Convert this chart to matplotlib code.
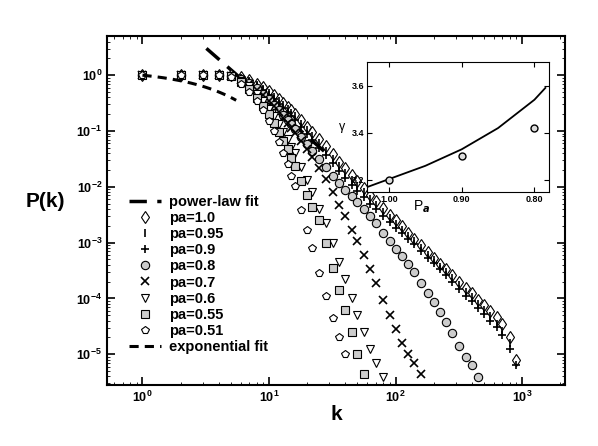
import numpy as np
import matplotlib.pyplot as plt

plt.rcParams['font.family'] = ['Liberation Sans', 'DejaVu Sans']
plt.rcParams['font.weight'] = 'bold'

k = [1, 2, 3, 4, 5, 6, 7, 8, 9, 10, 11, 12, 13, 14, 15, 16, 18, 20, 22, 25, 28, 32, 36, 40,
     45, 50, 56, 63, 70, 80, 90, 100, 112, 125, 140, 160, 180, 200, 225, 250, 280, 320, 360,
     400, 450, 500, 560, 630, 700, 800, 900]

# log10 P(k) per series
logp = {
    'pa=1.0': [0, 0, 0, 0, 0, -0.04, -0.09, -0.15, -0.22, -0.29, -0.36, -0.43, -0.5, -0.57,
               -0.63, -0.69, -0.81, -0.92, -1.02, -1.15, -1.27, -1.42, -1.55, -1.67, -1.79, -1.9,
               -2.02, -2.14, -2.25, -2.38, -2.5, -2.6, -2.71, -2.82, -2.93, -3.05, -3.17, -3.27,
               -3.38, -3.48, -3.58, -3.7, -3.81, -3.91, -4.02, -4.12, -4.22, -4.33, -4.45, -4.7,
               -5.1],
    'pa=0.95': [0, 0, 0, 0, -0.01, -0.05, -0.1, -0.17, -0.24, -0.32, -0.39, -0.47, -0.54, -0.61,
                -0.68, -0.74, -0.87, -0.98, -1.09, -1.22, -1.35, -1.5, -1.63, -1.75, -1.87, -1.98,
                -2.1, -2.22, -2.32, -2.45, -2.56, -2.66, -2.77, -2.88, -2.98, -3.1, -3.22, -3.32,
                -3.43, -3.53, -3.64, -3.76, -3.88, -3.98, -4.1, -4.2, -4.32, -4.45, -4.58, -4.8],
    'pa=0.9': [0, 0, 0, 0, -0.02, -0.06, -0.12, -0.19, -0.27, -0.35, -0.43, -0.51, -0.59, -0.66,
               -0.73, -0.8, -0.93, -1.05, -1.16, -1.3, -1.43, -1.58, -1.72, -1.84, -1.96, -2.07,
               -2.18, -2.3, -2.4, -2.52, -2.63, -2.73, -2.83, -2.93, -3.03, -3.15, -3.27, -3.37,
               -3.48, -3.58, -3.7, -3.83, -3.95, -4.05, -4.17, -4.28, -4.4, -4.52, -4.65, -4.9,
               -5.2],
    'pa=0.8': [0, 0, 0, 0, -0.02, -0.07, -0.14, -0.23, -0.33, -0.43, -0.53, -0.63, -0.72, -0.8,
               -0.88, -0.96, -1.1, -1.23, -1.35, -1.5, -1.64, -1.8, -1.94, -2.05, -2.16, -2.27,
               -2.39, -2.52, -2.65, -2.82, -2.98, -3.12, -3.24, -3.38, -3.52, -3.72, -3.9, -4.07,
               -4.25, -4.43, -4.62, -4.85, -5.05, -5.2, -5.4],
    'pa=0.7': [0, 0, 0, 0, -0.02, -0.08, -0.16, -0.26, -0.36, -0.46, -0.56, -0.66, -0.76, -0.86,
               -0.95, -1.03, -1.18, -1.33, -1.47, -1.67, -1.86, -2.1, -2.33, -2.53, -2.77, -2.98,
               -3.22, -3.48, -3.72, -4.02, -4.3, -4.55, -4.8, -5.0, -5.15, -5.35],
    'pa=0.6': [0, 0, 0, 0, -0.02, -0.1, -0.2, -0.33, -0.46, -0.6, -0.74, -0.88, -1.02, -1.15,
               -1.28, -1.4, -1.65, -1.88, -2.1, -2.4, -2.65, -3.0, -3.35, -3.65, -4.0, -4.3, -4.6,
               -4.9, -5.15, -5.4],
    'pa=0.55': [0, 0, 0, 0, -0.02, -0.12, -0.25, -0.4, -0.55, -0.7, -0.86, -1.02, -1.18, -1.33,
                -1.48, -1.62, -1.9, -2.15, -2.37, -2.6, -3.0, -3.45, -3.85, -4.2, -4.6, -5.0,
                -5.35],
    'pa=0.51': [0, 0, 0, 0, -0.03, -0.15, -0.3, -0.46, -0.63, -0.82, -1.0, -1.2, -1.4, -1.6,
                -1.8, -1.98, -2.41, -2.78, -3.1, -3.55, -3.95, -4.35, -4.7, -5.0],
}
markers = {'pa=1.0': 'd', 'pa=0.95': '|', 'pa=0.9': '+', 'pa=0.8': 'o', 'pa=0.7': 'x',
           'pa=0.6': 'v', 'pa=0.55': 's', 'pa=0.51': 'p'}

# inset data
pa_vals = [1.0, 0.9, 0.8]
gamma_vals = [3.2, 3.3, 3.42]
pa_fit = [1.03, 0.95, 0.9, 0.85, 0.8, 0.785]
gamma_fit = [3.17, 3.26, 3.33, 3.42, 3.54, 3.59]

fig = plt.figure(figsize=(5.98, 4.46), dpi=100)
ax = fig.add_axes([0.179, 0.137, 0.766, 0.782])

# power-law fit
kp = np.array([3.2, 30])
ax.plot(kp, 10**0.48 * (kp / 3.2)**-1.98, color='black', ls=(0, (5, 3)), lw=2.5,
        label='power-law fit')
for name, lp in logp.items():
    m = markers[name]
    kk = np.array(k[:len(lp)])
    pp = 10**np.array(lp)
    if m in ['|', '+', 'x']:
        ax.plot(kk, pp, ls='none', marker=m, color='black', ms=6, mew=1.2, label=name)
    else:
        fc = '#cccccc' if m in ['o', 's'] else 'white'
        ax.plot(kk, pp, ls='none', marker=m, mfc=fc, mec='black', ms=6, mew=0.8, label=name)
# exponential fit
ke = np.linspace(1, 5.5, 20)
ax.plot(ke, 10**(-0.1 * (ke - 1)), color='black', ls=(0, (3, 2)), lw=2.2,
        label='exponential fit')

ax.set_xscale('log')
ax.set_yscale('log')
ax.set_xlim(10**-0.28, 10**3.34)
ax.set_ylim(10**-5.55, 10**0.7)
ax.tick_params(which='both', direction='in', top=True, right=True, labelsize=9)
ax.tick_params(which='major', length=6, width=1.2)
for s in ax.spines.values():
    s.set_linewidth(1.5)
ax.set_xlabel('k', fontsize=15, fontweight='bold', labelpad=0)
ax.set_ylabel('P(k)', fontsize=15, fontweight='bold', rotation=0, labelpad=22)
ax.legend(loc='lower left', bbox_to_anchor=(0.02, 0.05), frameon=False, fontsize=10.5,
          handlelength=2.2, labelspacing=0.15, handletextpad=0.5)

ins = fig.add_axes([0.614, 0.570, 0.304, 0.291])
ins.plot(pa_fit, gamma_fit, color='black', lw=1.3)
ins.plot(pa_vals, gamma_vals, ls='none', marker='o', mfc='#dddddd', mec='black', ms=5)
ins.set_xlim(1.03, 0.78)
ins.set_ylim(3.15, 3.7)
ins.set_xticks([1.0, 0.9, 0.8])
ins.set_xticklabels(['1.00', '0.90', '0.80'])
ins.set_yticks([3.2, 3.4, 3.6])
ins.tick_params(which='both', direction='in', top=True, right=True, labelsize=6.5, pad=2)
ins.set_xlabel('P$_a$', fontsize=10)
ins.xaxis.set_label_coords(0.3, -0.05)
ins.set_ylabel('γ', fontsize=9, rotation=0)
ins.yaxis.set_label_coords(-0.14, 0.45)

fig.savefig('out.png', dpi=100)
